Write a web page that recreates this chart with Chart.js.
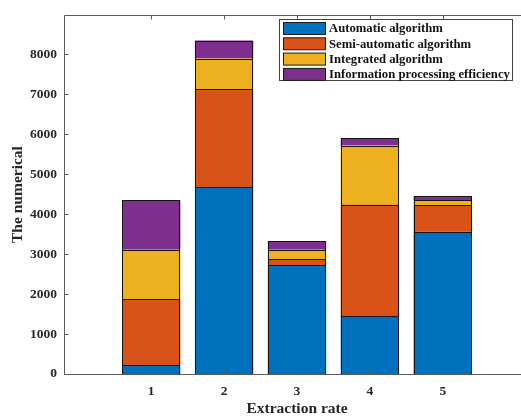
<!DOCTYPE html>
<html><head><meta charset="utf-8">
<script src="https://cdn.jsdelivr.net/npm/chart.js@4.4.0/dist/chart.umd.min.js"></script>
<style>
html,body{margin:0;padding:0;background:#fff;overflow:hidden}
canvas{display:block}
</style></head>
<body>
<canvas id="c" width="521" height="419" style="width:521px;height:419px"></canvas>
<script>
const categories = [1, 2, 3, 4, 5];
const seriesNames = ['Automatic algorithm', 'Semi-automatic algorithm', 'Integrated algorithm', 'Information processing efficiency'];
const automatic = [220, 4673, 2723, 1452, 3562];
const semiAutomatic = [1654, 2446, 147, 2788, 661];
const integrated = [1233, 773, 237, 1475, 122];
const efficiency = [1238, 450, 220, 181, 108];
const yTickValues = [0, 1000, 2000, 3000, 4000, 5000, 6000, 7000, 8000];
const xTitle = 'Extraction rate';
const yTitle = 'The numerical';

const colors = ['#0072BD', '#D95319', '#EDB120', '#7E2F8E'];
const seriesValues = [automatic, semiAutomatic, integrated, efficiency];
const FONT = "'Liberation Serif', 'Times New Roman', serif";
const TXT = '#262626';

const datasets = seriesValues.map((vals, i) => ({
  label: seriesNames[i],
  data: categories.map((c, j) => ({x: c, y: vals[j]})),
  backgroundColor: colors[i],
  borderWidth: 0,
  barPercentage: 0.8,
  categoryPercentage: 1.0
}));

const framePlugin = {
  id: 'frame',
  afterDatasetsDraw(chart) {
    const ctx = chart.ctx, a = chart.chartArea;
    const xs = chart.scales.x, ys = chart.scales.y;
    ctx.save();

    // bar edges (MATLAB-style thin black outlines), from the library's bar elements
    ctx.strokeStyle = '#141414';
    ctx.lineWidth = 1;
    chart.data.datasets.forEach((ds, i) => {
      chart.getDatasetMeta(i).data.forEach(bar => {
        const p = bar.getProps(['x', 'y', 'base', 'width'], true);
        const x0 = Math.round(p.x - p.width / 2) + 0.5, x1 = Math.round(p.x + p.width / 2) - 0.5;
        const y0 = Math.round(Math.min(p.y, p.base)) + 0.5, y1 = Math.round(Math.max(p.y, p.base)) + 0.5;
        ctx.strokeRect(x0, y0, x1 - x0, y1 - y0);
      });
    });

    ctx.strokeStyle = '#5a5a5a';
    const L = Math.round(a.left) + 0.5, R = chart.width;
    const T = Math.round(a.top) + 0.5, B = Math.round(a.bottom) + 0.5;
    ctx.beginPath();
    ctx.moveTo(R, T); ctx.lineTo(L, T); ctx.lineTo(L, B); ctx.lineTo(R, B);
    const tl = 4;
    categories.forEach(c => {
      const px = Math.round(xs.getPixelForValue(c)) + 0.5;
      ctx.moveTo(px, B); ctx.lineTo(px, B - tl);
      ctx.moveTo(px, T); ctx.lineTo(px, T + tl);
    });
    yTickValues.forEach(v => {
      const py = Math.round(ys.getPixelForValue(v)) + 0.5;
      ctx.moveTo(L, py); ctx.lineTo(L + tl, py);
    });
    ctx.stroke();

    // x-axis title, centred on the (cropped) plot box
    ctx.font = "bold 15.5px " + FONT;
    ctx.fillStyle = TXT;
    ctx.textAlign = 'center';
    ctx.textBaseline = 'middle';
    ctx.fillText(xTitle, xs.getPixelForValue(3), 409);

    // legend box inside plot area
    const bx = 279.5, by = 19.5, bw = 233, bh = 61;
    ctx.fillStyle = '#ffffff';
    ctx.fillRect(bx, by, bw, bh);
    ctx.strokeStyle = '#444';
    ctx.strokeRect(bx, by, bw, bh);
    ctx.font = "bold 12.7px " + FONT;
    ctx.textBaseline = 'middle';
    ctx.textAlign = 'left';
    chart.data.datasets.forEach((ds, i) => {
      const sy = 22.5 + i * 15.3;
      ctx.fillStyle = ds.backgroundColor;
      ctx.fillRect(283.5, sy, 42, 12);
      ctx.strokeStyle = '#1a1a1a';
      ctx.strokeRect(283.5, sy, 42, 12);
      ctx.fillStyle = '#111';
      ctx.fillText(ds.label, 329, sy + 6.5);
    });
    ctx.restore();
  }
};

new Chart(document.getElementById('c'), {
  type: 'bar',
  data: {datasets},
  options: {
    responsive: false,
    animation: false,
    layout: {padding: {top: 7, right: 0, left: 0, bottom: 0}},
    plugins: {legend: {display: false}, tooltip: {enabled: false}},
    scales: {
      x: {
        type: 'linear', stacked: true, offset: false, min: -0.196, max: 6.073,
        grid: {display: false, drawTicks: false, offset: false},
        border: {display: false},
        afterBuildTicks: s => { s.ticks = categories.map(v => ({value: v})); },
        afterFit: s => { s.height = 45; },
        ticks: {font: {family: FONT, size: 13.5, weight: 'bold'}, color: TXT, padding: 9, maxRotation: 0, autoSkip: false,
                callback: v => String(v)},
        title: {display: false}
      },
      y: {
        type: 'linear', stacked: true, min: 0, max: 8978,
        grid: {display: false, drawTicks: false},
        border: {display: false},
        afterBuildTicks: s => { s.ticks = yTickValues.map(v => ({value: v})); },
        afterFit: s => { s.width = 64; },
        ticks: {font: {family: FONT, size: 13.5, weight: 'bold'}, color: TXT, padding: 7, callback: v => String(v)},
        title: {display: true, text: yTitle, font: {family: FONT, size: 15.5, weight: 'bold'}, color: TXT, padding: {top: 9, bottom: 0}}
      }
    }
  },
  plugins: [framePlugin]
});
</script>
</body></html>
